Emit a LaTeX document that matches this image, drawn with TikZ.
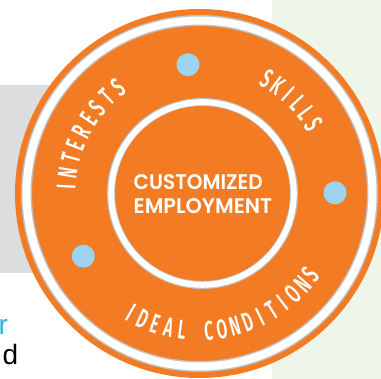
\documentclass[tikz,border=0pt]{standalone}
\usepackage{fontspec}
\usepackage{graphicx}
\usetikzlibrary{calc}
\setmainfont{Liberation Sans}
\newfontfamily\cefont{Poppins SemiBold}
\newfontfamily\arcfont{Fira Sans SemiBold}
\definecolor{ceorange}{RGB}{243,123,35}
\definecolor{bggray}{RGB}{220,221,223}
\definecolor{bggreen}{RGB}{238,245,233}
\definecolor{ringgray}{RGB}{192,193,196}
\definecolor{dotblue}{RGB}{156,211,240}
\definecolor{fragcyan}{RGB}{41,182,224}
\tikzset{
  arcletter/.style={inner sep=0pt, anchor=center, text=white, font=\arcfont\fontsize{27}{27}\selectfont},
  dot/.style={fill=dotblue},
  fragtext/.style={inner sep=0pt, anchor=base west, font=\fontsize{28}{30}\selectfont},
  centertext/.style={inner sep=0pt, anchor=base west, text=white}
}
\begin{document}
\begin{tikzpicture}[x=1pt,y=1pt]
\useasboundingbox (0,0) rectangle (381,379);
% backgrounds
\fill[bggray] (0,106) rectangle (220,294);
\fill[bggreen] (271.7,0) rectangle (381,379);
% text fragments on the left
\node[fragtext, text=fragcyan] (fragr) at (-1.5,44) {r};
\node[fragtext, text=black] (fragd) at (2.3,14.5) {d};
% circle centres
\coordinate (C) at (199.5,185.5);
\coordinate (Ci) at (202.5,185.5);
% outer disc
\fill[ceorange] (C) circle (184.5);
% outer ring
\draw[ringgray, line width=11pt] (C) circle (173);
\draw[white, line width=8pt] (C) circle (173);
% inner ring
\draw[ringgray, line width=8pt] (Ci) circle (91.5);
\draw[white, line width=6pt] (Ci) circle (91.3);
% dots
\fill[dot] (188,314.3) circle (11.5);
\fill[dot] (335,186.2) circle (11.5);
\fill[dot] (83.3,122.8) circle (11.5);
% centre text
\node[centertext] (ce1) at (133.5,189) {\resizebox{129pt}{15pt}{\cefont CUSTOMIZED}};
\node[centertext] (ce2) at (133.5,165.7) {\resizebox{138.5pt}{15pt}{\cefont EMPLOYMENT}};
% arc text: INTERESTS
\foreach \ch [count=\i from 0] in {I,N,T,E,R,E,S,T,S}{
  \pgfmathsetmacro\ang{177.2-6.2*\i}
  \node[arcletter, rotate=\ang-90] (int\i) at ($(C)+(\ang:133.5)$) {\scalebox{0.58}[1]{\ch}};
}
% arc text: SKILLS
\foreach \ch [count=\i from 0] in {S,K,I,L,L,S}{
  \pgfmathsetmacro\ang{59.7-5.7*\i}
  \node[arcletter, rotate=\ang-90] (sk\i) at ($(C)+(\ang:133.5)$) {\scalebox{0.58}[1]{\ch}};
}
% arc text: IDEAL CONDITIONS
\foreach \ch/\k in {I/0,D/1,E/2,A/3,L/4,C/6,O/7,N/8,D/9,I/10,T/11,I/12,O/13,N/14,S/15}{
  \pgfmathsetmacro\ang{-119.7+5.59*\k}
  \node[arcletter, rotate=\ang+90] (ic\k) at ($(C)+(\ang:137.5)$) {\scalebox{0.58}[1]{\ch}};
}
\end{tikzpicture}
\end{document}
